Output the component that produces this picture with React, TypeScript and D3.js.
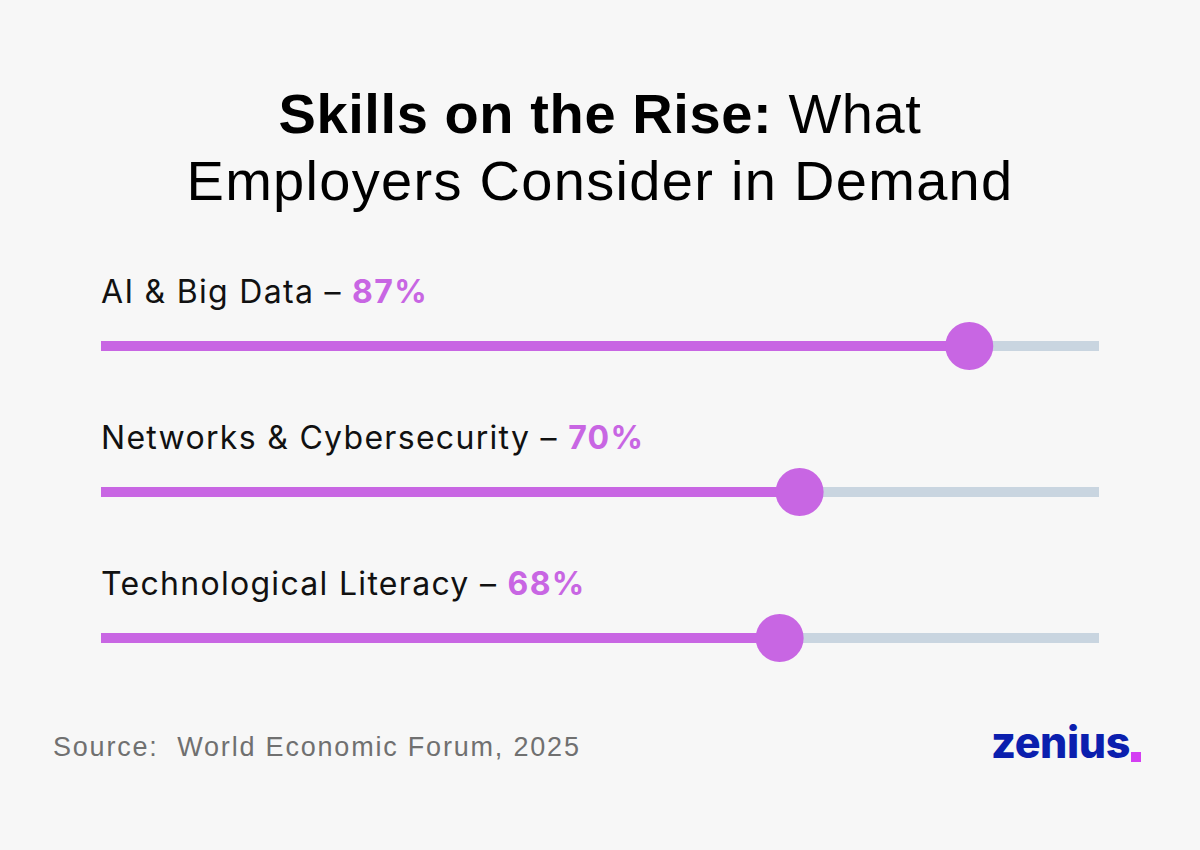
import { useEffect } from 'react';
import * as d3 from 'd3';

const skills = ['AI & Big Data', 'Networks & Cybersecurity', 'Technological Literacy'];
const shares = [87, 70, 68];
const titleBold = 'Skills on the Rise:';
const titleRest = ' What';
const titleLine2 = 'Employers Consider in Demand';
const source = 'Source:  World Economic Forum, 2025';

const W = 1200;
const H = 850;
const purple = '#c866e3';
const track = '#c9d5e0';

export default function App() {
  useEffect(() => {
    document.body.style.margin = '0';
  }, []);

  const x = d3.scaleLinear().domain([0, 100]).range([101, 1099]);
  const y = d3.scaleBand<number>().domain(d3.range(skills.length)).range([273, 711]);

  return (
    <svg width={W} height={H} style={{ display: 'block', background: '#f7f7f7' }}>
      <rect width={W} height={H} fill="#f7f7f7" />
      <g fontFamily="'Liberation Sans', Arial, sans-serif" fill="#000" style={{ whiteSpace: 'pre' }}>
        <text x={W / 2} y={133} textAnchor="middle" fontSize={56} letterSpacing={0.6}>
          <tspan fontWeight={700}>{titleBold}</tspan>
          <tspan fontWeight={400}>{titleRest}</tspan>
        </text>
        <text x={W / 2} y={200} textAnchor="middle" fontSize={56} letterSpacing={1.3}>
          {titleLine2}
        </text>
      </g>
      {skills.map((s, i) => {
        const y0 = y(i)!;
        const ty = y0 + 73;
        return (
          <g key={s}>
            <text
              x={101}
              y={y0 + 30}
              fontFamily="Inter, sans-serif"
              fontSize={32}
              letterSpacing={1.3}
              fill="#111"
            >
              {s} –{' '}
              <tspan fill={purple} fontWeight={700}>
                {shares[i]}%
              </tspan>
            </text>
            <rect x={x(0)} y={ty - 5} width={x(100) - x(0)} height={10} fill={track} />
            <rect x={x(0)} y={ty - 5} width={x(shares[i]) - x(0)} height={10} fill={purple} />
            <circle cx={x(shares[i])} cy={ty} r={24} fill={purple} />
          </g>
        );
      })}
      <text
        x={53}
        y={756}
        fontFamily="'Liberation Sans', Arial, sans-serif"
        fontSize={27}
        letterSpacing={1.8}
        fill="#707070"
        style={{ whiteSpace: 'pre' }}
      >
        {source}
      </text>
      <text x={991} y={758} fontFamily="Inter, sans-serif" fontSize={43} fontWeight={800} fill="#0b1fae" letterSpacing={-0.4}>
        zenius
      </text>
      <rect x={1131} y={752} width={10} height={10} fill="#d43ef3" />
    </svg>
  );
}
